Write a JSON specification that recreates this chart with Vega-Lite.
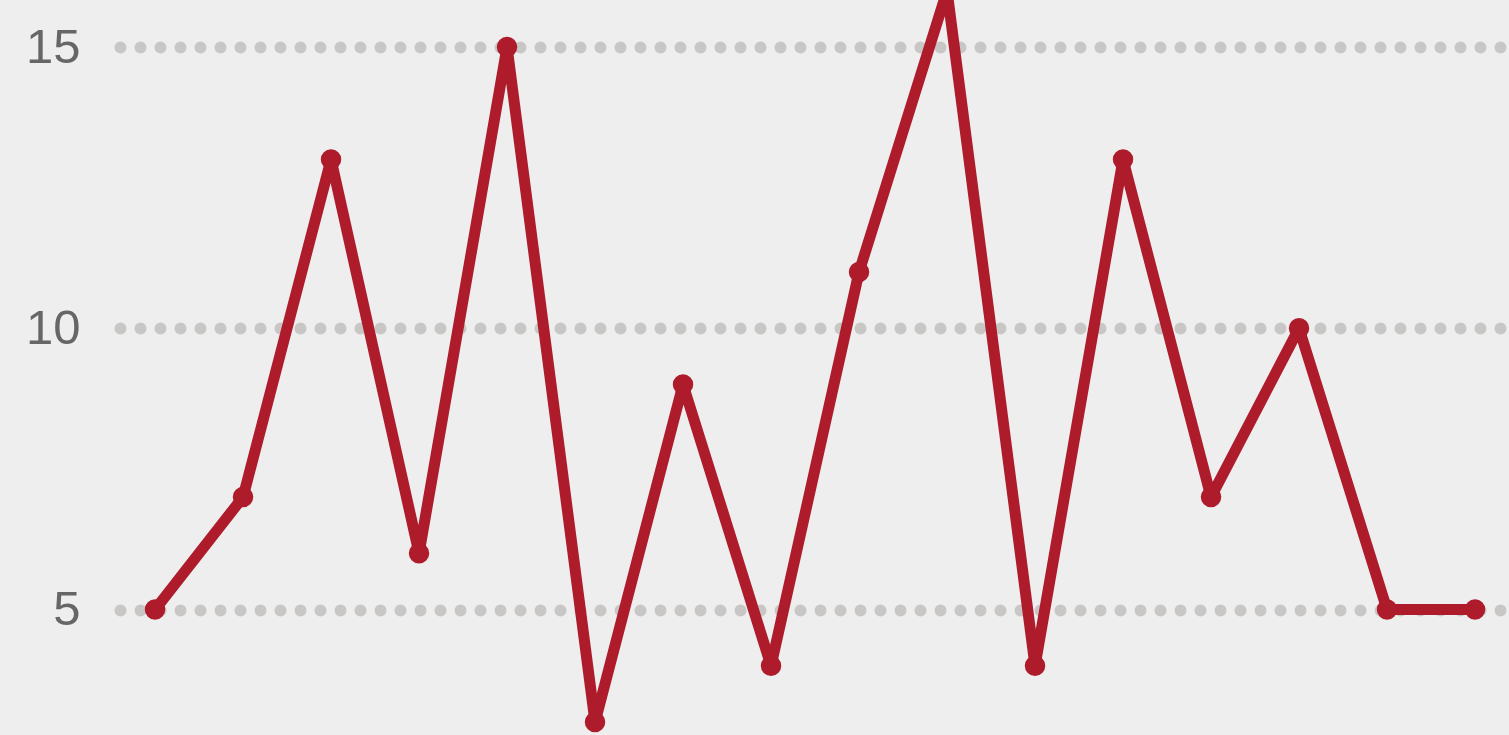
{
  "$schema": "https://vega.github.io/schema/vega-lite/v6.json",
  "width": 1389,
  "height": 735,
  "autosize": {"type": "none"},
  "padding": {"left": 120, "top": 0, "right": 0, "bottom": 0},
  "background": "#eeeeee",
  "config": {
    "view": {"stroke": null, "fill": "#eeeeee"},
    "font": "Liberation Sans"
  },
  "data": {
    "values": [
      {"i": 0, "v": 5},
      {"i": 1, "v": 7},
      {"i": 2, "v": 13},
      {"i": 3, "v": 6},
      {"i": 4, "v": 15},
      {"i": 5, "v": 3},
      {"i": 6, "v": 9},
      {"i": 7, "v": 4},
      {"i": 8, "v": 11},
      {"i": 9, "v": 16},
      {"i": 10, "v": 4},
      {"i": 11, "v": 13},
      {"i": 12, "v": 7},
      {"i": 13, "v": 10},
      {"i": 14, "v": 5},
      {"i": 15, "v": 5}
    ]
  },
  "encoding": {
    "x": {
      "field": "i",
      "type": "quantitative",
      "scale": {"domain": [-0.398, 15.386], "nice": false, "zero": false},
      "axis": null
    },
    "y": {
      "field": "v",
      "type": "quantitative",
      "scale": {"domain": [2.77, 15.836], "nice": false, "zero": false},
      "axis": {
        "values": [5, 10, 15],
        "title": null,
        "domain": false,
        "ticks": false,
        "labelFontSize": 49,
        "labelColor": "#666666",
        "labelPadding": 40,
        "labelFont": "Liberation Sans",
        "grid": true,
        "gridColor": "#c8c7c5",
        "gridWidth": 12,
        "gridDash": [0, 20],
        "gridCap": "round"
      }
    }
  },
  "layer": [
    {
      "mark": {"type": "line", "color": "#ae1c2c", "strokeWidth": 11, "strokeJoin": "round", "clip": true}
    },
    {
      "mark": {"type": "point", "filled": true, "color": "#ae1c2c", "size": 420, "opacity": 1, "clip": true}
    }
  ]
}
